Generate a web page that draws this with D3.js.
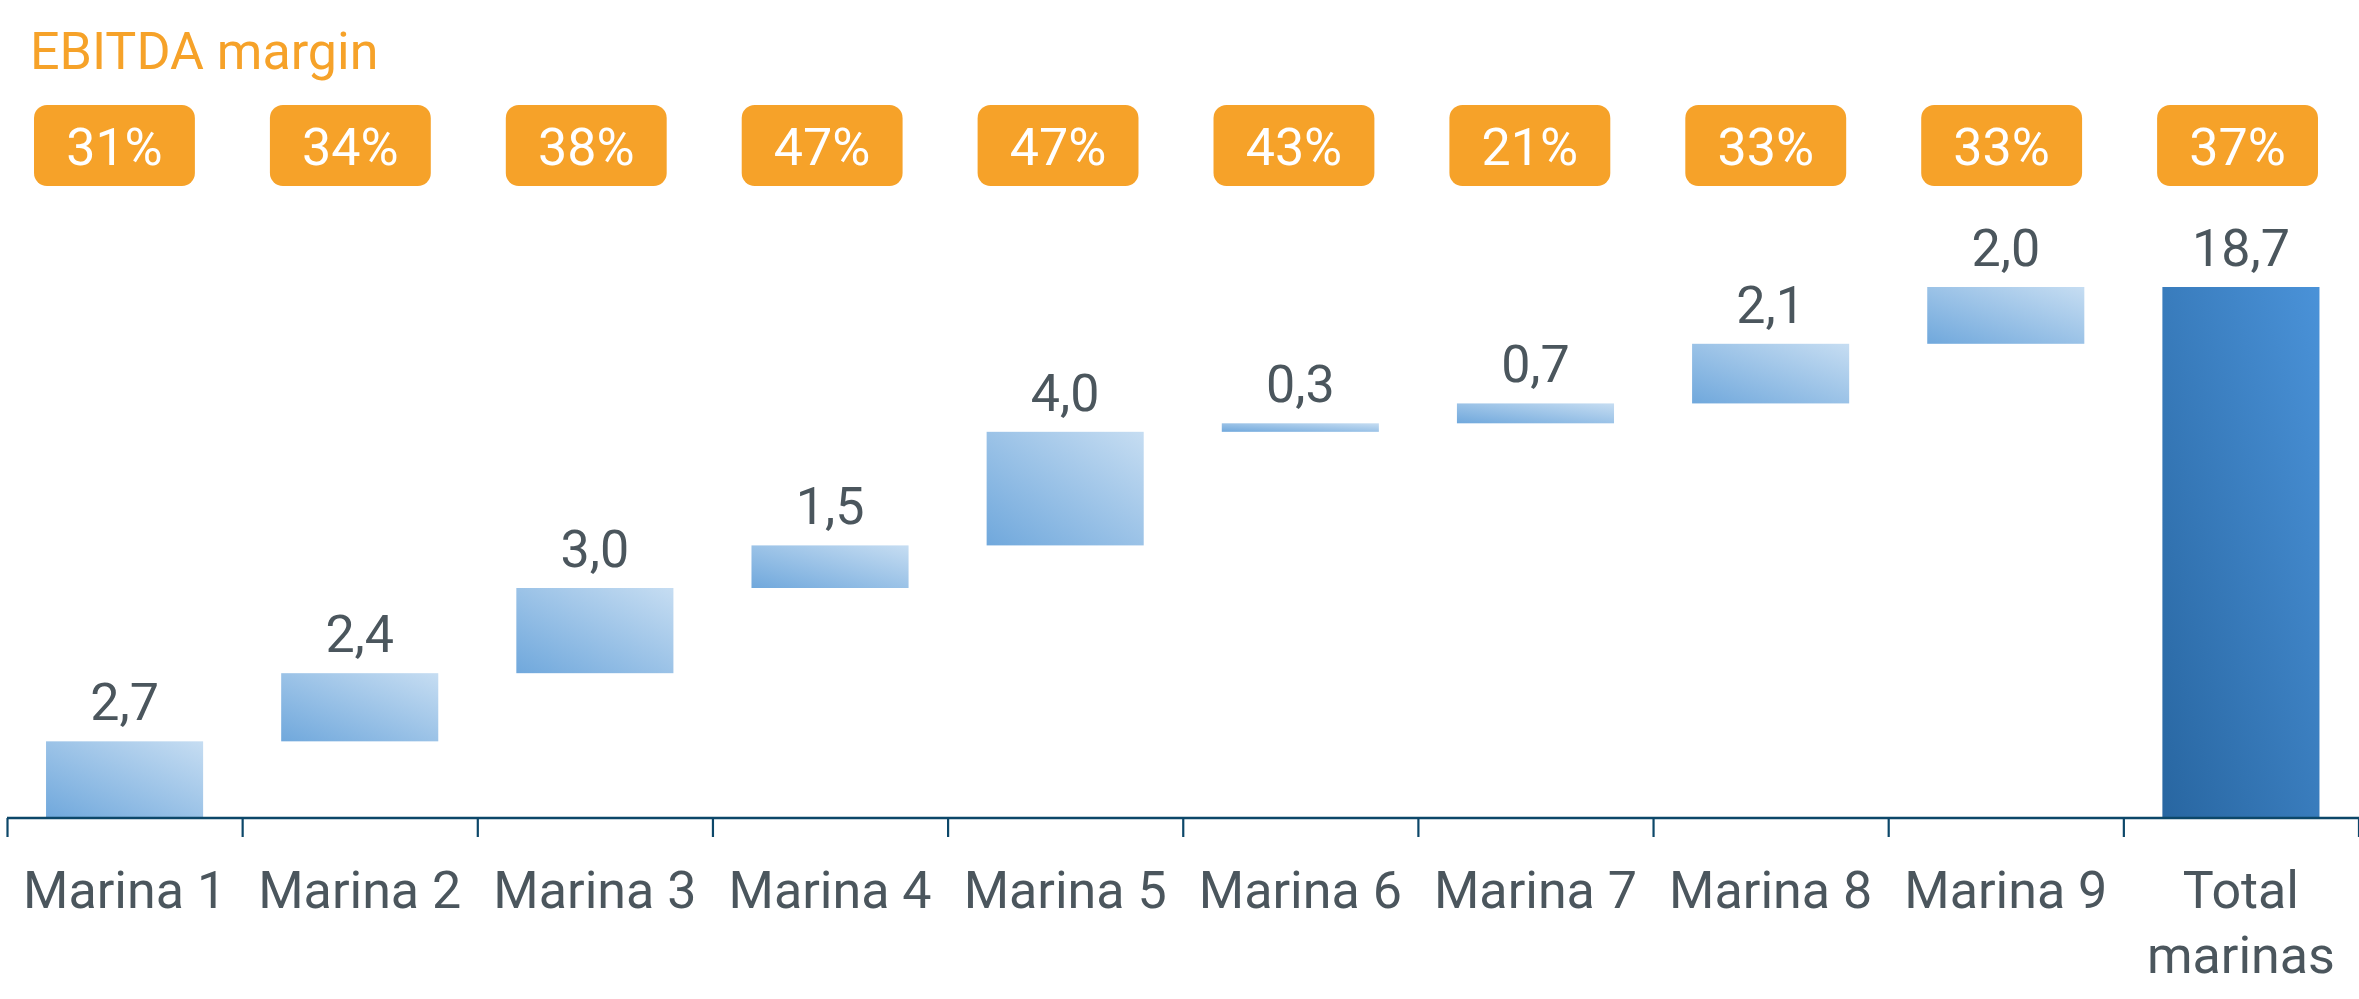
<!DOCTYPE html>
<html>
<head>
<meta charset="utf-8">
<script src="https://cdn.jsdelivr.net/npm/d3@7"></script>
<style>
  body { margin: 0; background: #fff; }
  text { font-family: Roboto, "Open Sans", sans-serif; }
</style>
</head>
<body>
<script>
// Data
let categories = ['Marina 1', 'Marina 2', 'Marina 3', 'Marina 4', 'Marina 5',
                  'Marina 6', 'Marina 7', 'Marina 8', 'Marina 9', 'Total marinas'];
let values = [2.7, 2.4, 3.0, 1.5, 4.0, 0.3, 0.7, 2.1, 2.0];
let total = 18.7;
let margins = [31, 34, 38, 47, 47, 43, 21, 33, 33, 37];
let title = 'EBITDA margin';

let width = 2359, height = 999;
let orange = '#f6a229', grey = '#4b565d', axisColor = '#0c4769';

let svg = d3.select('body')
  .append('svg')
  .attr('width', width)
  .attr('height', height);

// gradients (bottom-left -> top-right)
let defs = svg.append('defs');
function grad(id, from, to) {
  let g = defs.append('linearGradient').attr('id', id)
    .attr('x1', 0).attr('y1', 1).attr('x2', 1).attr('y2', 0);
  g.append('stop').attr('offset', '0%').attr('stop-color', from);
  g.append('stop').attr('offset', '100%').attr('stop-color', to);
}
grad('light', '#70a8dc', '#c6ddf2');
grad('dark', '#2866a1', '#4a92d8');

// build waterfall rows
let ends = d3.cumsum(values);
let rows = categories.map((c, i) => {
  if (i < values.length) return { name: c, start: ends[i] - values[i], end: ends[i], value: values[i], total: false };
  return { name: c, start: 0, end: total, value: total, total: true };
});

let x0 = 7, x1 = 2358.5;
let x = d3.scaleBand()
  .domain(categories)
  .range([x0, x1])
  .paddingInner(0.332)
  .paddingOuter(0.166);

// the margin row sits on a slightly wider grid than the bars
let xBadge = d3.scaleBand()
  .domain(categories)
  .range([-3.5, 2355.5])
  .paddingInner(0.318)
  .paddingOuter(0.159);

let y = d3.scaleLinear()
  .domain([0, total])
  .range([818, 287]);

let fmt = d3.formatLocale({ decimal: ',', thousands: '.', grouping: [3], currency: ['', ''] }).format('.1f');

// title
svg.append('text')
  .attr('x', 30)
  .attr('y', 69)
  .style('font-size', '52px')
  .style('fill', orange)
  .text(title);

// margin badges
let badge = svg.selectAll('g.badge')
  .data(categories)
  .enter()
  .append('g')
  .attr('class', 'badge')
  .attr('transform', d => `translate(${xBadge(d)},0)`);

badge.append('rect')
  .attr('y', 105)
  .attr('width', xBadge.bandwidth())
  .attr('height', 81)
  .attr('rx', 13)
  .style('fill', orange);

badge.append('text')
  .attr('x', xBadge.bandwidth() / 2)
  .attr('y', 165)
  .attr('text-anchor', 'middle')
  .style('font-size', '52px')
  .style('fill', '#fff')
  .text((d, i) => margins[i] + '%');

// bars
svg.selectAll('rect.bar')
  .data(rows)
  .enter()
  .append('rect')
  .attr('class', 'bar')
  .attr('x', d => x(d.name))
  .attr('y', d => y(d.end))
  .attr('width', x.bandwidth())
  .attr('height', d => y(d.start) - y(d.end))
  .style('fill', d => d.total ? 'url(#dark)' : 'url(#light)');

// value labels
svg.selectAll('text.value')
  .data(rows)
  .enter()
  .append('text')
  .attr('class', 'value')
  .attr('x', d => x(d.name) + x.bandwidth() / 2)
  .attr('y', d => y(d.end) - 21)
  .attr('text-anchor', 'middle')
  .style('font-size', '52px')
  .style('fill', grey)
  .text(d => fmt(d.value));

// axis line with ticks at the band edges
let edges = d3.scaleLinear().domain([0, categories.length]).range([x0, x1]);
svg.append('g')
  .attr('transform', 'translate(0,818)')
  .call(d3.axisBottom(edges)
    .tickValues(d3.range(categories.length + 1))
    .tickSize(19)
    .tickSizeOuter(0)
    .tickFormat(''))
  .call(g => g.select('.domain').attr('d', `M${x0},0H${width}`).style('stroke', axisColor).style('stroke-width', 2.5))
  .call(g => g.selectAll('.tick line').style('stroke', axisColor).style('stroke-width', 2.2));

// category labels
let labels = svg.append('g')
  .attr('transform', 'translate(0,818)')
  .call(d3.axisBottom(x).tickSize(0))
  .call(g => g.select('.domain').remove());

labels.selectAll('text')
  .attr('y', 90)
  .attr('dy', 0)
  .style('font-family', 'Roboto, sans-serif')
  .style('font-size', '52px')
  .style('fill', grey)
  .each(function(d) {
    let t = d3.select(this);
    if (this.getComputedTextLength() > x.step() - 10) {
      let words = d.split(' ');
      t.text(null);
      words.forEach((w, i) => {
        t.append('tspan').attr('x', 0).attr('dy', i === 0 ? 0 : 65).text(w);
      });
    }
  });
</script>
</body>
</html>
